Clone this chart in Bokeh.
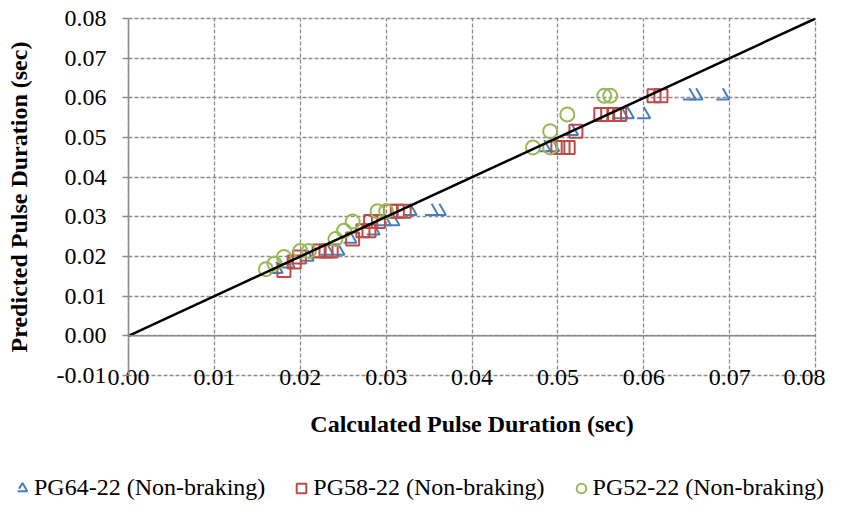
from bokeh.plotting import figure
from bokeh.models import Range1d, FixedTicker, NumeralTickFormatter, Span, Legend, LegendItem
from bokeh.embed import file_html
from bokeh.resources import INLINE

# ---- data ----
x_ticks = [0.00, 0.01, 0.02, 0.03, 0.04, 0.05, 0.06, 0.07, 0.08]
y_ticks = [-0.01, 0.00, 0.01, 0.02, 0.03, 0.04, 0.05, 0.06, 0.07, 0.08]

pg64_calc = [0.0172, 0.0186, 0.0208, 0.0231, 0.0244, 0.0258, 0.0285, 0.0298, 0.0308,
             0.0328, 0.0353, 0.0362, 0.0484, 0.0494, 0.0516, 0.0574, 0.0581, 0.0600,
             0.0653, 0.0661, 0.0692]
pg64_pred = [0.0168, 0.0182, 0.0199, 0.0214, 0.0214, 0.0244, 0.0265, 0.0288, 0.0288,
             0.0314, 0.0314, 0.0314, 0.0475, 0.0475, 0.0516, 0.0558, 0.0558, 0.0558,
             0.0605, 0.0605, 0.0605]

pg58_calc = [0.0181, 0.0193, 0.0199, 0.0222, 0.0230, 0.0236, 0.0261, 0.0273, 0.0280,
             0.0282, 0.0291, 0.0305, 0.0313, 0.0321, 0.0500, 0.0506, 0.0512, 0.0521,
             0.0550, 0.0558, 0.0566, 0.0572, 0.0612, 0.0620]
pg58_pred = [0.0165, 0.0186, 0.0199, 0.0214, 0.0214, 0.0214, 0.0244, 0.0265, 0.0265,
             0.0288, 0.0288, 0.0314, 0.0314, 0.0314, 0.0475, 0.0475, 0.0475, 0.0516,
             0.0558, 0.0558, 0.0558, 0.0558, 0.0605, 0.0605]

pg52_calc = [0.0160, 0.0170, 0.0181, 0.0200, 0.0210, 0.0241, 0.0251, 0.0261, 0.0290,
             0.0300, 0.0471, 0.0491, 0.0491, 0.0511, 0.0554, 0.0561]
pg52_pred = [0.0168, 0.0182, 0.0199, 0.0214, 0.0214, 0.0244, 0.0265, 0.0288, 0.0314,
             0.0314, 0.0475, 0.0475, 0.0516, 0.0558, 0.0605, 0.0605]

equality_x = [0.0, 0.08]
equality_y = [0.0, 0.08]

labels = ["PG64-22 (Non-braking)", "PG58-22 (Non-braking)", "PG52-22 (Non-braking)"]

# ---- style ----
FONT = "Liberation Serif"
GRAY = "#8c8c8c"
BLUE = "#4A7EBB"
RED = "#BE4B48"
GREEN = "#98B954"

tri_style = dict(marker="triangle", size=13, fill_color=None, line_color=BLUE,
                 line_width=2, line_dash="26 13")
sq_style = dict(marker="square", size=13, fill_color=None, line_color=RED, line_width=2)
ci_style = dict(marker="circle", size=14, fill_color=None, line_color=GREEN, line_width=2)

p = figure(width=825, height=464, output_backend="svg", toolbar_location=None,
           x_range=Range1d(0.0, 0.08), y_range=Range1d(-0.01, 0.08),
           min_border_left=128, min_border_right=10, min_border_top=18,
           min_border_bottom=89)
p.background_fill_color = "white"
p.border_fill_color = "white"

p.outline_line_color = GRAY
p.outline_line_dash = "4 2"
p.outline_line_width = 1.3

p.grid.grid_line_color = GRAY
p.grid.grid_line_dash = "4 2"
p.grid.grid_line_width = 1.3

p.xaxis.ticker = FixedTicker(ticks=x_ticks)
p.yaxis.ticker = FixedTicker(ticks=y_ticks)
p.xgrid.ticker = FixedTicker(ticks=x_ticks)
p.ygrid.ticker = FixedTicker(ticks=y_ticks)
p.xaxis.formatter = NumeralTickFormatter(format="0.00")
p.yaxis.formatter = NumeralTickFormatter(format="0.00")

for ax in (p.xaxis[0], p.yaxis[0]):
    ax.major_label_text_font = FONT
    ax.major_label_text_font_size = "24px"
    ax.major_label_text_color = "black"
    ax.axis_label_text_font = FONT
    ax.axis_label_text_font_size = "24px"
    ax.axis_label_text_font_style = "bold"
    ax.axis_label_text_color = "black"
    ax.minor_tick_line_color = None

p.xaxis.axis_label = "Calculated Pulse Duration (sec)"
p.xaxis.axis_line_color = None
p.xaxis.major_tick_line_color = None
p.xaxis.major_label_standoff = -12
p.xaxis.axis_label_standoff = 23

p.yaxis.axis_label = "Predicted Pulse Duration (sec)"
p.yaxis.axis_line_color = GRAY
p.yaxis.axis_line_width = 1.5
p.yaxis.major_tick_line_color = GRAY
p.yaxis.major_tick_line_width = 1.5
p.yaxis.major_tick_out = 6
p.yaxis.major_tick_in = 0
p.yaxis.major_label_standoff = 16
p.yaxis.axis_label_standoff = 22

p.add_layout(Span(location=0, dimension="width", line_color=GRAY, line_width=1.5))

p.scatter(pg64_calc, pg64_pred, **tri_style)
p.scatter(pg58_calc, pg58_pred, **sq_style)
p.scatter(pg52_calc, pg52_pred, **ci_style)
p.line(equality_x, equality_y, line_color="black", line_width=2.5)

# ---- legend strip below the chart (its ranges keep the series' points out of view) ----
lf = figure(width=825, height=37, output_backend="svg", toolbar_location=None,
            x_axis_type=None, y_axis_type=None, min_border=0,
            x_range=Range1d(1, 2), y_range=Range1d(1, 2))
lf.outline_line_color = None
lf.background_fill_color = "white"
lf.border_fill_color = "white"
l64 = lf.scatter(pg64_calc, pg64_pred, **tri_style)
l58 = lf.scatter(pg58_calc, pg58_pred, **sq_style)
l52 = lf.scatter(pg52_calc, pg52_pred, **ci_style)

legend = Legend(items=[LegendItem(label=labels[0], renderers=[l64]),
                       LegendItem(label=labels[1], renderers=[l58]),
                       LegendItem(label=labels[2], renderers=[l52])],
                orientation="horizontal", location=(10, 0),
                label_text_font=FONT, label_text_font_size="24px",
                label_text_color="black",
                glyph_width=24, glyph_height=24, label_standoff=-3, spacing=24,
                padding=0, margin=0, border_line_color=None,
                background_fill_alpha=0)
lf.add_layout(legend)

open("out.html", "w").write(file_html([p, lf], INLINE))
